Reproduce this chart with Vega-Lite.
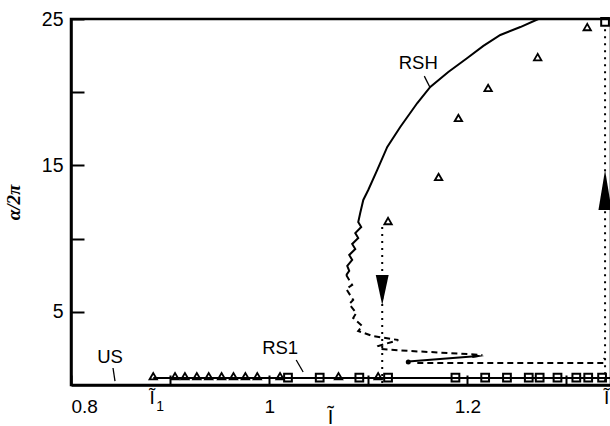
{
  "$schema": "https://vega.github.io/schema/vega-lite/v6.json",
  "width": 540,
  "height": 366,
  "autosize": "none",
  "padding": {"left": 71, "top": 19, "right": 0, "bottom": 41},
  "background": "white",
  "config": {
    "view": {"stroke": "black", "strokeWidth": 2.5},
    "font": "Liberation Sans"
  },
  "datasets": {
    "lines": [
      {"id": "rsh", "i": 0, "x": 1.2717, "y": 25.0},
      {"id": "rsh", "i": 1, "x": 1.2535, "y": 24.45},
      {"id": "rsh", "i": 2, "x": 1.2333, "y": 23.91},
      {"id": "rsh", "i": 3, "x": 1.2162, "y": 23.16},
      {"id": "rsh", "i": 4, "x": 1.2, "y": 22.34},
      {"id": "rsh", "i": 5, "x": 1.1808, "y": 21.38},
      {"id": "rsh", "i": 6, "x": 1.1626, "y": 20.36},
      {"id": "rsh", "i": 7, "x": 1.1495, "y": 19.26},
      {"id": "rsh", "i": 8, "x": 1.1323, "y": 17.62},
      {"id": "rsh", "i": 9, "x": 1.1192, "y": 16.26},
      {"id": "rsh", "i": 10, "x": 1.1091, "y": 14.69},
      {"id": "rsh", "i": 11, "x": 1.1, "y": 13.32},
      {"id": "rsh", "i": 12, "x": 1.095, "y": 12.64},
      {"id": "rsh", "i": 13, "x": 1.0919, "y": 11.75},
      {"id": "rsh", "i": 14, "x": 1.0899, "y": 11.13},
      {"id": "rsh", "i": 15, "x": 1.0929, "y": 10.79},
      {"id": "rsh", "i": 16, "x": 1.0869, "y": 10.38},
      {"id": "rsh", "i": 17, "x": 1.0899, "y": 10.04},
      {"id": "rsh", "i": 18, "x": 1.0838, "y": 9.63},
      {"id": "rsh", "i": 19, "x": 1.0869, "y": 9.29},
      {"id": "rsh", "i": 20, "x": 1.0808, "y": 8.88},
      {"id": "rsh", "i": 21, "x": 1.0838, "y": 8.54},
      {"id": "rsh", "i": 22, "x": 1.0788, "y": 8.13},
      {"id": "rsh", "i": 23, "x": 1.0808, "y": 7.79},
      {"id": "rsh", "i": 24, "x": 1.0778, "y": 7.51},
      {"id": "rs1", "i": 0, "x": 0.883, "y": 0.48},
      {"id": "rs1", "i": 1, "x": 1.345, "y": 0.48},
      {"id": "s2", "i": 0, "x": 1.1404, "y": 1.6},
      {"id": "s2", "i": 1, "x": 1.2111, "y": 1.98},
      {"id": "rshd", "i": 0, "x": 1.0778, "y": 7.51},
      {"id": "rshd", "i": 1, "x": 1.0838, "y": 6.83},
      {"id": "rshd", "i": 2, "x": 1.0778, "y": 6.56},
      {"id": "rshd", "i": 3, "x": 1.0848, "y": 5.81},
      {"id": "rshd", "i": 4, "x": 1.0808, "y": 5.53},
      {"id": "rshd", "i": 5, "x": 1.0879, "y": 4.92},
      {"id": "rshd", "i": 6, "x": 1.0848, "y": 4.58},
      {"id": "rshd", "i": 7, "x": 1.0939, "y": 4.03},
      {"id": "rshd", "i": 8, "x": 1.0899, "y": 3.69},
      {"id": "rshd", "i": 9, "x": 1.104, "y": 3.35},
      {"id": "rshd", "i": 10, "x": 1.1303, "y": 3.07},
      {"id": "rshd", "i": 11, "x": 1.1101, "y": 2.66},
      {"id": "rshd", "i": 12, "x": 1.1121, "y": 2.46},
      {"id": "rshd", "i": 13, "x": 1.1424, "y": 2.32},
      {"id": "rshd", "i": 14, "x": 1.1798, "y": 2.19},
      {"id": "rshd", "i": 15, "x": 1.2152, "y": 2.05},
      {"id": "d2", "i": 0, "x": 1.1495, "y": 1.5},
      {"id": "d2", "i": 1, "x": 1.3374, "y": 1.5},
      {"id": "d2", "i": 2, "x": 1.3384, "y": 1.85},
      {"id": "v1", "i": 0, "x": 1.1141, "y": 10.8},
      {"id": "v1", "i": 1, "x": 1.1141, "y": 0},
      {"id": "v2", "i": 0, "x": 1.339, "y": 24.3},
      {"id": "v2", "i": 1, "x": 1.339, "y": 0},
      {"id": "aRSH", "i": 0, "x": 1.1566, "y": 21.1},
      {"id": "aRSH", "i": 1, "x": 1.1626, "y": 20.29},
      {"id": "aRS1", "i": 0, "x": 1.0273, "y": 1.71},
      {"id": "aRS1", "i": 1, "x": 1.0343, "y": 0.89},
      {"id": "aUS", "i": 0, "x": 0.8424, "y": 1.16},
      {"id": "aUS", "i": 1, "x": 0.8444, "y": 0.27}
    ],
    "points": [
      {"set": "tri", "x": 1.321, "y": 24.45},
      {"set": "tri", "x": 1.271, "y": 22.4},
      {"set": "tri", "x": 1.221, "y": 20.29},
      {"set": "tri", "x": 1.191, "y": 18.24},
      {"set": "tri", "x": 1.171, "y": 14.21},
      {"set": "tri", "x": 1.12, "y": 11.2},
      {"set": "tri", "x": 0.883, "y": 0.6},
      {"set": "tri", "x": 0.905, "y": 0.6},
      {"set": "tri", "x": 0.915, "y": 0.6},
      {"set": "tri", "x": 0.927, "y": 0.6},
      {"set": "tri", "x": 0.939, "y": 0.6},
      {"set": "tri", "x": 0.952, "y": 0.6},
      {"set": "tri", "x": 0.964, "y": 0.6},
      {"set": "tri", "x": 0.976, "y": 0.6},
      {"set": "tri", "x": 0.988, "y": 0.6},
      {"set": "tri", "x": 1.011, "y": 0.6},
      {"set": "tri", "x": 1.07, "y": 0.6},
      {"set": "tri", "x": 1.11, "y": 0.6},
      {"set": "sq", "x": 1.339, "y": 24.8},
      {"set": "sq", "x": 1.019, "y": 0.5},
      {"set": "sq", "x": 1.051, "y": 0.5},
      {"set": "sq", "x": 1.091, "y": 0.5},
      {"set": "sq", "x": 1.12, "y": 0.5},
      {"set": "sq", "x": 1.188, "y": 0.5},
      {"set": "sq", "x": 1.218, "y": 0.5},
      {"set": "sq", "x": 1.24, "y": 0.5},
      {"set": "sq", "x": 1.262, "y": 0.5},
      {"set": "sq", "x": 1.273, "y": 0.5},
      {"set": "sq", "x": 1.291, "y": 0.5},
      {"set": "sq", "x": 1.31, "y": 0.5},
      {"set": "sq", "x": 1.322, "y": 0.5},
      {"set": "sq", "x": 1.336, "y": 0.5}
    ],
    "heads": [
      {"id": "down", "x": 1.1141, "y": 6.49},
      {"id": "up", "x": 1.339, "y": 13.32},
      {"id": "right", "x": 1.2111, "y": 1.98},
      {"id": "dot", "x": 1.1404, "y": 1.57}
    ],
    "labels": [
      {"t": "RSH", "x": 1.1505, "y": 22.0},
      {"t": "RS1", "x": 1.0111, "y": 2.53},
      {"t": "US", "x": 0.8394, "y": 1.91}
    ],
    "marks": [
      {"t": "Ĩ", "sub": "1", "x": 0.882, "y": 0},
      {"t": "Ĩ", "sub": "4", "x": 1.3405, "y": 0}
    ]
  },
  "encoding": {
    "x": {
      "field": "x", "type": "quantitative",
      "scale": {"domain": [0.8, 1.345], "nice": false, "zero": false},
      "axis": {
        "values": [0.8, 0.9, 1, 1.1, 1.2, 1.3],
        "labelExpr": "datum.value == 0.8 ? '0.8' : datum.value == 1 ? '1' : datum.value == 1.2 ? '1.2' : ''",
        "grid": false, "tickSize": -10, "tickWidth": 2, "tickColor": "black",
        "domainColor": "black", "domainWidth": 2.5,
        "labelFont": "Liberation Sans", "labelFontSize": 19, "labelColor": "black", "labelPadding": 22,
        "title": "Ĩ", "titleFont": "Liberation Sans", "titleFontWeight": "normal", "titleFontSize": 20,
        "titleColor": "black", "titleX": 259, "titleY": 38, "titleBaseline": "alphabetic"
      }
    },
    "y": {
      "field": "y", "type": "quantitative",
      "scale": {"domain": [0, 25], "nice": false, "zero": false},
      "axis": {
        "values": [5, 10, 15, 20, 25],
        "labelExpr": "datum.value % 10 == 5 ? datum.label : ''",
        "grid": false, "tickSize": -13, "tickWidth": 2, "tickColor": "black",
        "domainColor": "black", "domainWidth": 2.5,
        "labelFont": "Liberation Sans", "labelFontSize": 19.5, "labelColor": "black", "labelPadding": 21,
        "title": "α/2π", "titleFont": "Liberation Serif", "titleFontStyle": "italic", "titleFontWeight": "bold",
        "titleFontSize": 19, "titleColor": "black", "titlePadding": 18
      }
    }
  },
  "layer": [
    {
      "data": {"name": "lines"},
      "transform": [{"filter": "indexof(['rsh','rs1','s2'], datum.id) >= 0"}],
      "mark": {"type": "line", "color": "black", "strokeWidth": 2},
      "encoding": {"detail": {"field": "id"}, "order": {"field": "i", "type": "quantitative"}}
    },
    {
      "data": {"name": "lines"},
      "transform": [{"filter": "indexof(['rshd','d2'], datum.id) >= 0"}],
      "mark": {"type": "line", "color": "black", "strokeWidth": 2, "strokeDash": [6, 4]},
      "encoding": {"detail": {"field": "id"}, "order": {"field": "i", "type": "quantitative"}}
    },
    {
      "data": {"name": "lines"},
      "transform": [{"filter": "indexof(['v1','v2'], datum.id) >= 0"}],
      "mark": {"type": "line", "color": "black", "strokeWidth": 2, "strokeDash": [2, 5]},
      "encoding": {"detail": {"field": "id"}, "order": {"field": "i", "type": "quantitative"}}
    },
    {
      "data": {"name": "lines"},
      "transform": [{"filter": "indexof(['aRSH','aRS1','aUS'], datum.id) >= 0"}],
      "mark": {"type": "line", "color": "black", "strokeWidth": 1.3},
      "encoding": {"detail": {"field": "id"}, "order": {"field": "i", "type": "quantitative"}}
    },
    {
      "data": {"name": "points"},
      "transform": [{"filter": "datum.set == 'tri'"}],
      "mark": {"type": "point", "shape": "triangle-up", "filled": false, "color": "black", "size": 55, "strokeWidth": 1.8, "opacity": 1}
    },
    {
      "data": {"name": "points"},
      "transform": [{"filter": "datum.set == 'sq'"}],
      "mark": {"type": "point", "shape": "square", "filled": false, "color": "black", "size": 60, "strokeWidth": 2, "opacity": 1}
    },
    {
      "data": {"name": "heads"},
      "transform": [{"filter": "datum.id == 'down'"}],
      "mark": {"type": "point", "shape": "M-0.43,-1L0.43,-1L0,1Z", "filled": true, "color": "black", "size": 900, "opacity": 1}
    },
    {
      "data": {"name": "heads"},
      "transform": [{"filter": "datum.id == 'up'"}],
      "mark": {"type": "point", "shape": "M-0.33,1L0.33,1L0,-1Z", "filled": true, "color": "black", "size": 1600, "opacity": 1}
    },
    {
      "data": {"name": "heads"},
      "transform": [{"filter": "datum.id == 'right'"}],
      "mark": {"type": "point", "shape": "M-1,-0.35L1,0L-1,0.35Z", "filled": true, "color": "black", "size": 144, "opacity": 1}
    },
    {
      "data": {"name": "heads"},
      "transform": [{"filter": "datum.id == 'dot'"}],
      "mark": {"type": "point", "shape": "circle", "filled": true, "color": "black", "size": 25, "opacity": 1}
    },
    {
      "data": {"name": "labels"},
      "mark": {"type": "text", "font": "Liberation Sans", "fontSize": 18.5, "color": "black", "baseline": "middle", "align": "center"},
      "encoding": {"text": {"field": "t"}}
    },
    {
      "data": {"name": "marks"},
      "mark": {"type": "text", "font": "Liberation Sans", "fontSize": 19, "color": "black", "baseline": "top", "align": "center", "dy": 4},
      "encoding": {"text": {"field": "t"}}
    },
    {
      "data": {"name": "marks"},
      "mark": {"type": "text", "font": "Liberation Sans", "fontSize": 14, "color": "black", "baseline": "top", "align": "left", "dx": 4, "dy": 15},
      "encoding": {"text": {"field": "sub"}}
    }
  ]
}
